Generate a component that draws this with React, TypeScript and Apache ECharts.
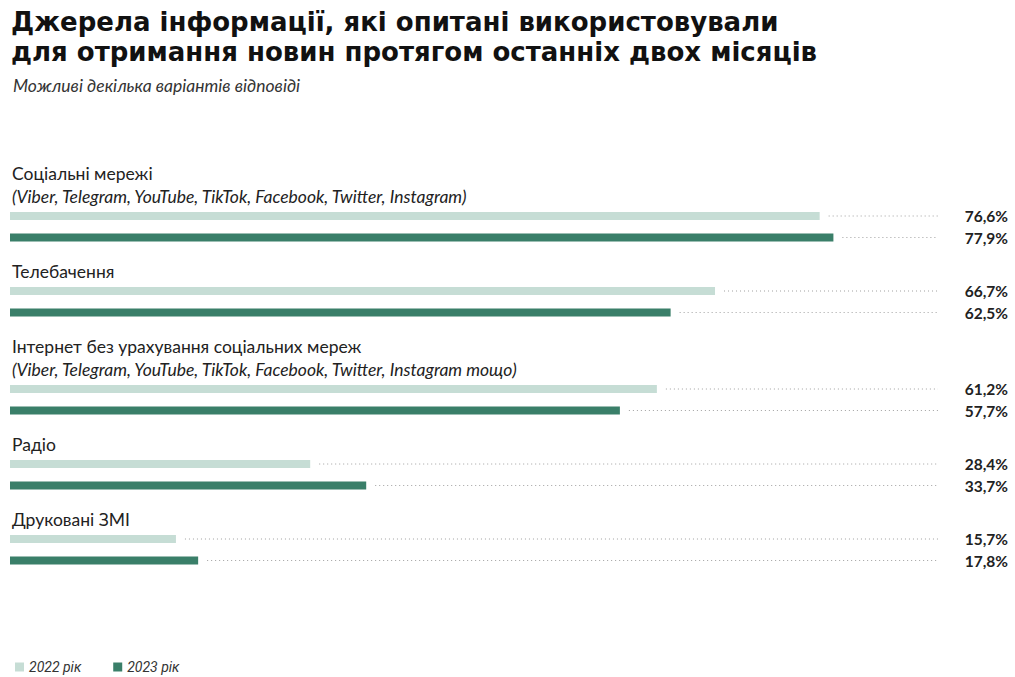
import React, { useEffect, useRef } from "react";
import * as echarts from "echarts";

const titleLines = [
  "Джерела інформації, які опитані використовували",
  "для отримання новин протягом останніх двох місяців",
];
const subtitleText = "Можливі декілька варіантів відповіді";
const categories = [
  "Соціальні мережі",
  "Телебачення",
  "Інтернет без урахування соціальних мереж",
  "Радіо",
  "Друковані ЗМІ",
];
const subLabels = [
  "(Viber, Telegram, YouTube, TikTok, Facebook, Twitter, Instagram)",
  "",
  "(Viber, Telegram, YouTube, TikTok, Facebook, Twitter, Instagram тощо)",
  "",
  "",
];
const years = ["2022 рік", "2023 рік"];
const values2022 = [76.6, 66.7, 61.2, 28.4, 15.7];
const values2023 = [77.9, 62.5, 57.7, 33.7, 17.8];

const LIGHT = "#c6ddd5";
const DARK = "#3a7f69";

export default function App() {
  const ref = useRef<HTMLDivElement>(null);
  useEffect(() => {
    document.body.style.margin = "0";
    const chart = echarts.init(ref.current!, null, { renderer: "svg" });

    const firstLabelY = 175;
    const lineH = 23;
    const labelToBar = 18;
    const barStep = 21.5;
    const groupGap = 35.5;
    const gridLeft = 10;
    const xMax = 90;
    const pxPerUnit = 10.57;
    const gridWidth = xMax * pxPerUnit;
    const lineEndX = 938;
    const valueX = 1008;

    const grids: any[] = [];
    const xAxes: any[] = [];
    const yAxes: any[] = [];
    const series: any[] = [];
    const graphics: any[] = [];

    let y = firstLabelY;
    categories.forEach((cat, i) => {
      graphics.push({
        type: "text",
        left: 12,
        top: y - 11,
        style: { text: cat, font: "17.5px Lato", fill: "#222" },
      });
      let last = y;
      if (subLabels[i]) {
        last = y + lineH;
        graphics.push({
          type: "text",
          left: 12,
          top: last - 11,
          style: { text: subLabels[i], font: "italic 17.5px Lato", fill: "#222" },
        });
      }
      const bar1 = last + labelToBar;
      const top = bar1 - barStep / 2;
      grids.push({ left: gridLeft, top, width: gridWidth, height: barStep * 2 });
      xAxes.push({ type: "value", gridIndex: i, min: 0, max: xMax, show: false });
      yAxes.push({ type: "category", gridIndex: i, data: years, inverse: true, show: false });
      series.push({
        type: "bar",
        name: years[0],
        xAxisIndex: i,
        yAxisIndex: i,
        barWidth: 8,
        barGap: "-100%",
        itemStyle: { color: LIGHT },
        data: [values2022[i], "-"],
      });
      series.push({
        type: "bar",
        name: years[1],
        xAxisIndex: i,
        yAxisIndex: i,
        barWidth: 8,
        barGap: "-100%",
        itemStyle: { color: DARK },
        data: ["-", values2023[i]],
      });
      series.push({
        type: "custom",
        xAxisIndex: i,
        yAxisIndex: i,
        clip: false,
        data: [
          [values2022[i], 0],
          [values2023[i], 1],
        ],
        renderItem: (params: any, api: any) => {
          const v = api.value(0);
          const p = api.coord([v, api.value(1)]);
          return {
            type: "group",
            children: [
              {
                type: "line",
                shape: { x1: p[0] + 9, y1: p[1], x2: lineEndX, y2: p[1] },
                style: { stroke: "#a0a0a0", lineWidth: 1, lineDash: [1, 3] },
              },
              {
                type: "text",
                style: {
                  text: v.toFixed(1).replace(".", ",") + "%",
                  x: valueX,
                  y: p[1],
                  align: "right",
                  verticalAlign: "middle",
                  font: "bold 15.5px Lato",
                  fill: "#222",
                },
              },
            ],
          };
        },
      });
      y = bar1 + barStep + groupGap;
    });

    const titleStyle = {
      fontFamily: "DejaVu Sans",
      fontWeight: 700,
      fontSize: 26,
      lineHeight: 30,
      color: "#111",
    };

    chart.setOption({
      animation: false,
      title: [
        { text: titleLines[0], left: 11, top: 7, textStyle: titleStyle, padding: 0 },
        { text: titleLines[1], left: 11, top: 37, textStyle: titleStyle, padding: 0 },
        {
          text: subtitleText,
          left: 13,
          top: 76,
          padding: 0,
          textStyle: { fontFamily: "Lato", fontStyle: "italic", fontWeight: 400, fontSize: 17.5, color: "#333" },
        },
      ],
      legend: {
        data: years,
        left: 10,
        top: 655,
        icon: "rect",
        itemWidth: 9,
        itemHeight: 9,
        itemGap: 32,
        textStyle: { fontFamily: "Roboto", fontStyle: "italic", fontSize: 14, color: "#333" },
      },
      grid: grids,
      xAxis: xAxes,
      yAxis: yAxes,
      series,
      graphic: graphics,
    });
    return () => chart.dispose();
  }, []);
  return <div ref={ref} style={{ width: 1015, height: 677 }} />;
}
